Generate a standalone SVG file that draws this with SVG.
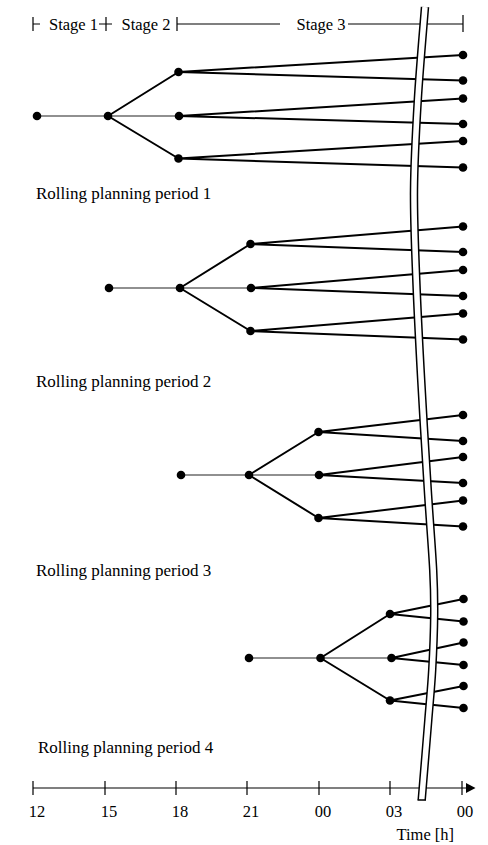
<svg xmlns="http://www.w3.org/2000/svg" width="488" height="845" viewBox="0 0 488 845">
  <style>
    .lbl { font-family: "Liberation Serif", "Times New Roman", serif; font-size: 16.5px; fill: #000; }
    .big { font-size: 17px; }
    .mid { text-anchor: middle; }
    .thin { stroke: #222; stroke-width: 1.2; fill: none; }
    .thick { stroke: #000; stroke-width: 2; fill: none; }
    .rule { stroke: #000; stroke-width: 1.2; fill: none; }
    .dot { fill: #000; }
  </style>
  <defs>
    <path id="breakLine" d="M425,7 C423.8,22.5 419.63,69.5 417.8,100 C415.97,130.5 414.25,160 414,190 C413.75,220 415.1,248.33 416.3,280 C417.5,311.67 419.28,345 421.2,380 C423.12,415 425.8,458.33 427.8,490 C429.8,521.67 432.13,549.17 433.2,570 C434.27,590.83 434.37,598.33 434.2,615 C434.03,631.67 433.18,652.5 432.2,670 C431.22,687.5 430.05,698.33 428.3,720 C426.55,741.67 422.8,786.67 421.7,800"/>
  </defs>
  <rect width="488" height="845" fill="#fff"/>

  <!-- stage header -->
  <g id="stages">
    <path class="rule" d="M33,17V31 M33,24H40 M106,17V31 M99,24H112 M177,17V31 M177,24H280 M348,24H463 M463,15V32"/>
    <text class="lbl" x="49" y="29.5">Stage 1</text>
    <text class="lbl" x="121.5" y="29.5">Stage 2</text>
    <text class="lbl" x="296.5" y="29.5">Stage 3</text>
  </g>

  <!-- connectors of the four scenario trees -->
  <g id="connectors">
    <!-- period 1 -->
    <path class="thin" d="M37,116H108 M108,116H179"/>
    <path class="thick" d="M108,116L178.5,72 M108,116L178.5,158.5"/>
    <path class="thick" d="M178.5,72L463,55 M178.5,72L463,80.5 M179,116L463,98.5 M179,116L463,124 M178.5,158.5L463,141 M178.5,158.5L463,167.5"/>
    <!-- period 2 -->
    <path class="thin" d="M109,288H180 M180,288H251"/>
    <path class="thick" d="M180,288L250.5,244 M180,288L250.5,331"/>
    <path class="thick" d="M250.5,244L463,226.5 M250.5,244L463,252 M251,288L463,270 M251,288L463,296 M250.5,331L463,313.5 M250.5,331L463,339.5"/>
    <!-- period 3 -->
    <path class="thin" d="M181,475H249 M249,475H319"/>
    <path class="thick" d="M249,475L318.5,432 M249,475L318.5,518"/>
    <path class="thick" d="M318.5,432L463,415 M318.5,432L463,441 M319,475L463,457 M319,475L463,483 M318.5,518L463,500.5 M318.5,518L463,526.5"/>
    <!-- period 4 -->
    <path class="thin" d="M249,658H320.5 M320.5,658H391.5"/>
    <path class="thick" d="M320.5,658L390,614 M320.5,658L390,700.5"/>
    <path class="thick" d="M390,614L463.5,599 M390,614L463.5,621.5 M391.5,658L463.5,642.5 M391.5,658L463.5,665 M390,700.5L463.5,686 M390,700.5L463.5,708"/>
  </g>

  <!-- time axis -->
  <g id="axis">
    <path class="rule" d="M33,788H467 M33,781V795 M105,781V795 M176,781V795 M247,781V795 M319,781V795 M390,781V795 M462,781V795"/>
    <polygon points="466,783 475.5,788 466,793" fill="#000"/>
    <text class="lbl mid" x="37" y="817">12</text>
    <text class="lbl mid" x="109" y="817">15</text>
    <text class="lbl mid" x="180" y="817">18</text>
    <text class="lbl mid" x="251" y="817">21</text>
    <text class="lbl mid" x="323" y="817">00</text>
    <text class="lbl mid" x="394" y="817">03</text>
    <text class="lbl mid" x="465" y="817">00</text>
    <text class="lbl" x="396.5" y="840">Time [h]</text>
  </g>

  <!-- time-scale break: double line with white gap -->
  <g id="break">
    <use href="#breakLine" stroke="#000" stroke-width="8.5" fill="none"/>
    <use href="#breakLine" stroke="#fff" stroke-width="5.5" fill="none"/>
    <line x1="417.5" y1="800" x2="426" y2="800" stroke="#000" stroke-width="1.5"/>
  </g>

  <!-- period labels -->
  <g id="periods">
    <text class="lbl big" x="36" y="199">Rolling planning period 1</text>
    <text class="lbl big" x="36" y="387">Rolling planning period 2</text>
    <text class="lbl big" x="36" y="575.5">Rolling planning period 3</text>
    <text class="lbl big" x="38" y="753">Rolling planning period 4</text>
  </g>

  <!-- period 1 nodes -->
  <g id="p1-root"><circle class="dot" cx="37" cy="116" r="4.3"/></g>
  <g id="p1-n1"><circle class="dot" cx="108" cy="116" r="4.3"/></g>
  <g id="p1-b1"><circle class="dot" cx="178.5" cy="72" r="4.3"/></g>
  <g id="p1-b2"><circle class="dot" cx="179" cy="116" r="4.3"/></g>
  <g id="p1-b3"><circle class="dot" cx="178.5" cy="158.5" r="4.3"/></g>
  <g id="p1-l1"><circle class="dot" cx="463" cy="55" r="4.3"/></g>
  <g id="p1-l2"><circle class="dot" cx="463" cy="80.5" r="4.3"/></g>
  <g id="p1-l3"><circle class="dot" cx="463" cy="98.5" r="4.3"/></g>
  <g id="p1-l4"><circle class="dot" cx="463" cy="124" r="4.3"/></g>
  <g id="p1-l5"><circle class="dot" cx="463" cy="141" r="4.3"/></g>
  <g id="p1-l6"><circle class="dot" cx="463" cy="167.5" r="4.3"/></g>

  <!-- period 2 nodes -->
  <g id="p2-root"><circle class="dot" cx="109" cy="288" r="4.3"/></g>
  <g id="p2-n1"><circle class="dot" cx="180" cy="288" r="4.3"/></g>
  <g id="p2-b1"><circle class="dot" cx="250.5" cy="244" r="4.3"/></g>
  <g id="p2-b2"><circle class="dot" cx="251" cy="288" r="4.3"/></g>
  <g id="p2-b3"><circle class="dot" cx="250.5" cy="331" r="4.3"/></g>
  <g id="p2-l1"><circle class="dot" cx="463" cy="226.5" r="4.3"/></g>
  <g id="p2-l2"><circle class="dot" cx="463" cy="252" r="4.3"/></g>
  <g id="p2-l3"><circle class="dot" cx="463" cy="270" r="4.3"/></g>
  <g id="p2-l4"><circle class="dot" cx="463" cy="296" r="4.3"/></g>
  <g id="p2-l5"><circle class="dot" cx="463" cy="313.5" r="4.3"/></g>
  <g id="p2-l6"><circle class="dot" cx="463" cy="339.5" r="4.3"/></g>

  <!-- period 3 nodes -->
  <g id="p3-root"><circle class="dot" cx="181" cy="475" r="4.3"/></g>
  <g id="p3-n1"><circle class="dot" cx="249" cy="475" r="4.3"/></g>
  <g id="p3-b1"><circle class="dot" cx="318.5" cy="432" r="4.3"/></g>
  <g id="p3-b2"><circle class="dot" cx="319" cy="475" r="4.3"/></g>
  <g id="p3-b3"><circle class="dot" cx="318.5" cy="518" r="4.3"/></g>
  <g id="p3-l1"><circle class="dot" cx="463" cy="415" r="4.3"/></g>
  <g id="p3-l2"><circle class="dot" cx="463" cy="441" r="4.3"/></g>
  <g id="p3-l3"><circle class="dot" cx="463" cy="457" r="4.3"/></g>
  <g id="p3-l4"><circle class="dot" cx="463" cy="483" r="4.3"/></g>
  <g id="p3-l5"><circle class="dot" cx="463" cy="500.5" r="4.3"/></g>
  <g id="p3-l6"><circle class="dot" cx="463" cy="526.5" r="4.3"/></g>

  <!-- period 4 nodes -->
  <g id="p4-root"><circle class="dot" cx="249" cy="658" r="4.3"/></g>
  <g id="p4-n1"><circle class="dot" cx="320.5" cy="658" r="4.3"/></g>
  <g id="p4-b1"><circle class="dot" cx="390" cy="614" r="4.3"/></g>
  <g id="p4-b2"><circle class="dot" cx="391.5" cy="658" r="4.3"/></g>
  <g id="p4-b3"><circle class="dot" cx="390" cy="700.5" r="4.3"/></g>
  <g id="p4-l1"><circle class="dot" cx="463.5" cy="599" r="4.3"/></g>
  <g id="p4-l2"><circle class="dot" cx="463.5" cy="621.5" r="4.3"/></g>
  <g id="p4-l3"><circle class="dot" cx="463.5" cy="642.5" r="4.3"/></g>
  <g id="p4-l4"><circle class="dot" cx="463.5" cy="665" r="4.3"/></g>
  <g id="p4-l5"><circle class="dot" cx="463.5" cy="686" r="4.3"/></g>
  <g id="p4-l6"><circle class="dot" cx="463.5" cy="708" r="4.3"/></g>
</svg>
